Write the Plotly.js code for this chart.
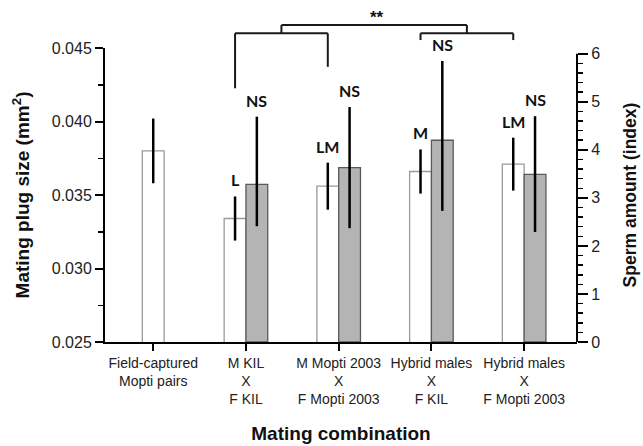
<!DOCTYPE html>
<html><head><meta charset="utf-8">
<script src="https://cdn.plot.ly/plotly-3.0.1.min.js"></script>
<style>html,body{margin:0;padding:0;background:#fff}#chart{width:643px;height:446px}</style>
</head><body><div id="chart"></div>
<script>
// ---- data ----
const categories = [
  "Field-captured<br>Mopti pairs",
  "M KIL<br>X<br>F KIL",
  "M Mopti 2003<br>X<br>F Mopti 2003",
  "Hybrid males<br>X<br>F KIL",
  "Hybrid males<br>X<br>F Mopti 2003"
];
const plugSize = [0.0380, 0.0334, 0.0356, 0.0366, 0.0371];
const plugErr  = [0.0022, 0.0015, 0.0016, 0.0015, 0.0018];
const spermAmount    = [null, 3.28, 3.63, 4.20, 3.49];
const spermErrPlus   = [null, 1.41, 1.26, 1.65, 1.21];
const spermErrMinus  = [null, 0.87, 1.26, 1.47, 1.20];
const plugLabels  = ["", "L", "LM", "M", "LM"];
const spermLabels = ["", "NS", "NS", "NS", "NS"];
const leftTicks  = [0.025, 0.030, 0.035, 0.040, 0.045];
const rightTicks = [0, 1, 2, 3, 4, 5, 6];
const bracketLeft  = [1, 2];   // compared groups (category index)
const bracketRight = [3, 4];
const bracketLabel = "**";

// ---- layout helpers ----
const W = 0.235;
const whiteOffset = spermAmount.map(v => v == null ? -W / 2 : -W);
const whiteCenter = i => i + whiteOffset[i] + W / 2;
const grayCenter = i => i + W / 2;

const traces = [
  {
    type: 'bar', x: categories, y: plugSize, width: W, offset: whiteOffset,
    marker: {color: '#ffffff', line: {color: '#9a9a9a', width: 1.3}},
    error_y: {type: 'data', array: plugErr, visible: true, color: '#000', thickness: 2.5, width: 0},
    yaxis: 'y', hoverinfo: 'skip', showlegend: false
  },
  {
    type: 'bar', x: categories, y: spermAmount, width: W, offset: 0,
    marker: {color: '#b4b4b4', line: {color: '#5a5a5a', width: 1.3}},
    error_y: {type: 'data', symmetric: false, array: spermErrPlus, arrayminus: spermErrMinus,
              visible: true, color: '#000', thickness: 2.5, width: 0},
    yaxis: 'y2', hoverinfo: 'skip', showlegend: false
  }
];

const annFont = {family: 'Lato, Liberation Sans, sans-serif', size: 16, color: '#111', weight: 'bold'};
const annotations = [];
categories.forEach((c, i) => {
  if (plugLabels[i]) annotations.push({
    x: whiteCenter(i), xref: 'x', y: plugSize[i] + plugErr[i], yref: 'y',
    text: plugLabels[i], showarrow: false, yanchor: 'bottom', yshift: 5, font: annFont
  });
  if (spermLabels[i]) annotations.push({
    x: grayCenter(i), xref: 'x', y: spermAmount[i] + spermErrPlus[i], yref: 'y2',
    text: spermLabels[i], showarrow: false, yanchor: 'bottom', yshift: 5, font: annFont
  });
});

const lx0 = whiteCenter(bracketLeft[0]), lx1 = whiteCenter(bracketLeft[1]);
const rx0 = whiteCenter(bracketRight[0]), rx1 = whiteCenter(bracketRight[1]);
const lmid = (lx0 + lx1) / 2, rmid = (rx0 + rx1) / 2;
const bl = {color: '#1a1a1a', width: 2};
const yBar = 1.050, yTop = 1.078;
const shapes = [
  {type: 'line', xref: 'x', yref: 'paper', x0: lx0, x1: lx0, y0: 0.863, y1: yBar, line: bl},
  {type: 'line', xref: 'x', yref: 'paper', x0: lx1, x1: lx1, y0: 0.936, y1: yBar, line: bl},
  {type: 'line', xref: 'x', yref: 'paper', x0: lx0, x1: lx1, y0: yBar, y1: yBar, line: bl},
  {type: 'line', xref: 'x', yref: 'paper', x0: lmid, x1: lmid, y0: yBar, y1: yTop, line: bl},
  {type: 'line', xref: 'x', yref: 'paper', x0: rx0, x1: rx0, y0: 1.027, y1: yBar, line: bl},
  {type: 'line', xref: 'x', yref: 'paper', x0: rx1, x1: rx1, y0: 1.027, y1: yBar, line: bl},
  {type: 'line', xref: 'x', yref: 'paper', x0: rx0, x1: rx1, y0: yBar, y1: yBar, line: bl},
  {type: 'line', xref: 'x', yref: 'paper', x0: rmid, x1: rmid, y0: yBar, y1: yTop, line: bl},
  {type: 'line', xref: 'x', yref: 'paper', x0: lmid, x1: rmid, y0: yTop, y1: yTop, line: bl},
  // right axis line (ends at top tick)
  {type: 'line', xref: 'paper', yref: 'y2', x0: 1, x1: 1, y0: rightTicks[0], y1: rightTicks[rightTicks.length - 1],
   line: {color: '#000', width: 2}}
];
annotations.push({
  x: (lmid + rmid) / 2, xref: 'x', y: yTop, yref: 'paper', yanchor: 'bottom', yshift: -4, xshift: 3,
  text: bracketLabel, showarrow: false,
  font: {family: 'Liberation Sans, Arial, sans-serif', size: 17, color: '#111', weight: 'bold'}
});

const tickFontY = {family: 'Liberation Sans, Arial, sans-serif', size: 16, color: '#222'};
const tickFontX = {family: 'Liberation Sans, Arial, sans-serif', size: 14, color: '#222'};
const titleFont = s => ({family: 'Liberation Sans, Arial, sans-serif', size: s, color: '#111', weight: 'bold'});

const layout = {
  width: 643, height: 446,
  margin: {l: 105, r: 66, t: 48, b: 104},
  paper_bgcolor: '#fff', plot_bgcolor: '#fff',
  barmode: 'overlay',
  showlegend: false,
  xaxis: {
    type: 'category', range: [-0.52, 4.57],
    showline: true, linecolor: '#000', linewidth: 2,
    ticks: 'outside', ticklen: 7, tickwidth: 2, tickcolor: '#000',
    tickfont: tickFontX, showgrid: false, zeroline: false,
    title: {text: 'Mating combination', font: titleFont(19), standoff: 20}
  },
  yaxis: {
    range: [leftTicks[0], leftTicks[leftTicks.length - 1]],
    tickvals: leftTicks, tickformat: '.3f',
    showline: true, linecolor: '#000', linewidth: 2,
    ticks: 'outside', ticklen: 8, tickwidth: 2, tickcolor: '#000',
    minor: {dtick: 0.0025, ticks: 'outside', ticklen: 5, tickwidth: 1.5, tickcolor: '#000', showgrid: false},
    tickfont: tickFontY, showgrid: false, zeroline: false,
    title: {text: 'Mating plug size (mm<sup>2</sup>)', font: titleFont(19), standoff: 17}
  },
  yaxis2: {
    overlaying: 'y', side: 'right',
    range: [0, 6.12], tickvals: rightTicks,
    showline: false,
    ticks: 'outside', ticklen: 10, tickwidth: 2, tickcolor: '#000',
    minor: {dtick: 0.2, ticks: 'outside', ticklen: 5, tickwidth: 1.5, tickcolor: '#000', showgrid: false},
    tickfont: tickFontY, showgrid: false, zeroline: false,
    title: {text: 'Sperm amount (index)', font: titleFont(17.5), standoff: 24}
  },
  annotations: annotations,
  shapes: shapes
};

Plotly.newPlot('chart', traces, layout, {displayModeBar: false, staticPlot: true});
</script>
</body></html>
